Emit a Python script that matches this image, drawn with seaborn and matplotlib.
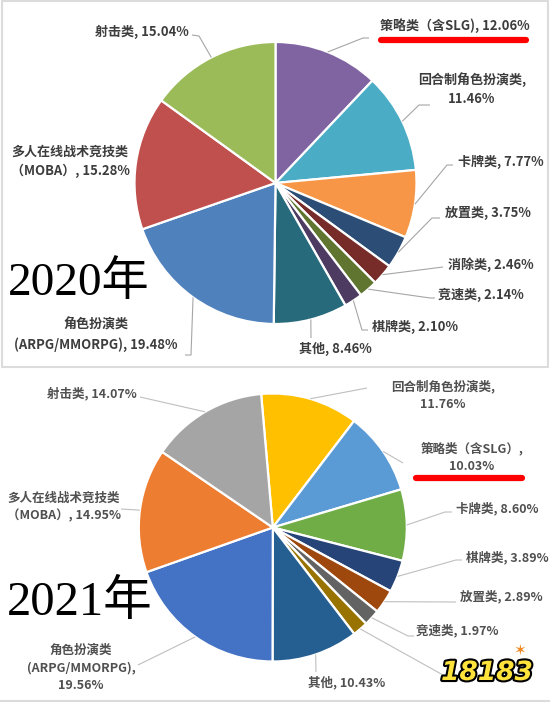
import matplotlib
matplotlib.use("Agg")
import numpy as np
import seaborn as sns
import matplotlib.pyplot as plt
import matplotlib.patheffects as pe
from matplotlib.patches import Rectangle

# ---- data (clockwise from 12 o'clock) ----
cats_2020 = ["策略类（含SLG)", "回合制角色扮演类", "卡牌类", "放置类", "消除类", "竞速类",
             "棋牌类", "其他", "角色扮演类\n(ARPG/MMORPG)", "多人在线战术竞技类\n（MOBA）", "射击类"]
share_2020 = [12.06, 11.46, 7.77, 3.75, 2.46, 2.14, 2.10, 8.46, 19.48, 15.28, 15.04]
colors_2020 = ["#8064A2", "#4BACC6", "#F79646", "#2C4D75", "#772C2A", "#5F7530",
               "#4D3B62", "#276A7C", "#4F81BD", "#C0504D", "#9BBB59"]

cats_2021 = ["回合制角色扮演类", "策略类（含SLG）", "卡牌类", "棋牌类", "放置类", "竞速类",
             "消除类", "其他", "角色扮演类\n(ARPG/MMORPG)", "多人在线战术竞技类\n（MOBA）", "射击类"]
share_2021 = [11.76, 10.03, 8.60, 3.89, 2.89, 1.97, 1.85, 10.43, 19.56, 14.95, 14.07]
colors_2021 = ["#FFC000", "#5B9BD5", "#70AD47", "#264478", "#9E480E", "#636363",
               "#997300", "#255E91", "#4472C4", "#ED7D31", "#A5A5A5"]

# ---- label layout in pixels: separator, x, y, ha, leader elbow points ----
layout_2020 = [
    (", ", 380, 26, "left", [(363, 38), (369, 38)]),
    (",\n", 472, 89.5, "center", [(419, 105), (430, 105)]),
    (", ", 458, 162, "left", [(447, 165), (453, 165)]),
    (", ", 445, 213, "left", [(432, 218), (440, 218)]),
    (", ", 448, 265, "left", [(443, 267)]),
    (", ", 438, 295, "left", [(430, 298), (435, 298)]),
    (", ", 372, 327, "left", [(362, 330), (368, 330)]),
    (", ", 335, 349, "center", [(311, 338)]),
    (", ", 96, 335, "center", [(191, 355), (185, 355)]),
    (", ", 70, 161, "center", None),
    (", ", 189, 32, "right", [(199, 36), (192, 35)]),
]
layout_2021 = [
    (",\n", 443, 395.5, "center", [(367, 388)]),
    (",\n", 472, 457.5, "center", [(403, 463)]),
    (", ", 456, 508.5, "left", [(445, 512), (452, 512)]),
    (", ", 466, 557.5, "left", [(456, 560), (462, 560)]),
    (", ", 460, 597, "left", [(456, 602)]),
    (", ", 416, 631, "left", [(408, 636), (414, 636)]),
    (None, 0, 0, "left", [(443, 675), (450, 675)]),
    (", ", 347, 683, "center", [(316, 672)]),
    (",\n", 81, 668, "center", [(138, 665)]),
    (", ", 64, 507, "center", [(121, 509)]),
    (", ", 137, 393.5, "right", [(140, 397)]),
]

sns.set_theme(style="white")
plt.rcParams["font.family"] = ["Noto Sans CJK SC", "DejaVu Sans"]

W, H = 550, 705
fig = plt.figure(figsize=(W / 100, H / 100), dpi=100)
fig.patch.set_facecolor("white")


def pie_axes(cx, cy, r):
    return fig.add_axes([(cx - r) / W, (H - cy - r) / H, 2 * r / W, 2 * r / H])


ax20 = pie_axes(275.5, 183, 141)
ax21 = pie_axes(272.8, 527.5, 134)

ov = fig.add_axes([0, 0, 1, 1])
ov.set_xlim(0, W)
ov.set_ylim(H, 0)
ov.axis("off")
ov.set_facecolor("none")


def draw_pie(ax, vals, colors, start):
    wedges, _ = ax.pie(vals, colors=colors, startangle=start, counterclock=False,
                       wedgeprops=dict(edgecolor="white", linewidth=1.6))
    ax.set_aspect("auto")
    ax.set_xlim(-1, 1)
    ax.set_ylim(-1, 1)
    return wedges


def label_pie(ax, wedges, cats, vals, layout, fs, tcolor, lcolor):
    to_px = ax.transData + ov.transData.inverted()
    for w, name, v, (sep, tx, ty, ha, path) in zip(wedges, cats, vals, layout):
        ang = np.deg2rad((w.theta1 + w.theta2) / 2)
        sx, sy = to_px.transform((np.cos(ang), np.sin(ang)))
        if path:
            xs = [sx] + [p[0] for p in path]
            ys = [sy] + [p[1] for p in path]
            ov.plot(xs, ys, color=lcolor, lw=0.8, solid_capstyle="butt")
        if sep is not None:
            ov.text(tx, ty, f"{name}{sep}{v:.2f}%", ha=ha, va="center", multialignment="center",
                    fontsize=fs, color=tcolor, weight="bold", linespacing=1.45)


w20 = draw_pie(ax20, share_2020, colors_2020, 90)
w21 = draw_pie(ax21, share_2021, colors_2021, 95)
label_pie(ax20, w20, cats_2020, share_2020, layout_2020, 9.4, "#3d3d3d", "#a6a6a6")
label_pie(ax21, w21, cats_2021, share_2021, layout_2021, 9.0, "#505050", "#bfbfbf")

# panel frames
ov.add_patch(Rectangle((1.5, 1), 546, 366, fill=False, edgecolor="#dcdcdc", lw=1.5))
ov.plot([0, W], [701, 701], color="#dcdcdc", lw=1.5)

# red highlight under the strategy labels
ov.plot([381, 526], [40, 40], color="#ff0000", lw=4.5, solid_capstyle="round")
ov.plot([416, 522], [478, 478], color="#ff0000", lw=4.5, solid_capstyle="round")

# year labels
yfont = ["Liberation Serif", "Noto Sans CJK SC"]
ov.text(8, 295, "2020年", family=yfont, fontsize=34, color="black", va="baseline")
ov.text(7, 615, "2021年", family=yfont, fontsize=35, color="black", va="baseline")

# watermark
ov.text(487, 673, "18183", family="DejaVu Sans", fontsize=19, weight="heavy",
        color="#FFE23B", ha="center", va="center", style="italic",
        path_effects=[pe.withStroke(linewidth=3, foreground="black")])
ov.text(520, 650, "\u2736", family="DejaVu Sans", fontsize=11, color="#F08A24",
        ha="center", va="center")

fig.savefig("out.png", dpi=100, facecolor="white")
